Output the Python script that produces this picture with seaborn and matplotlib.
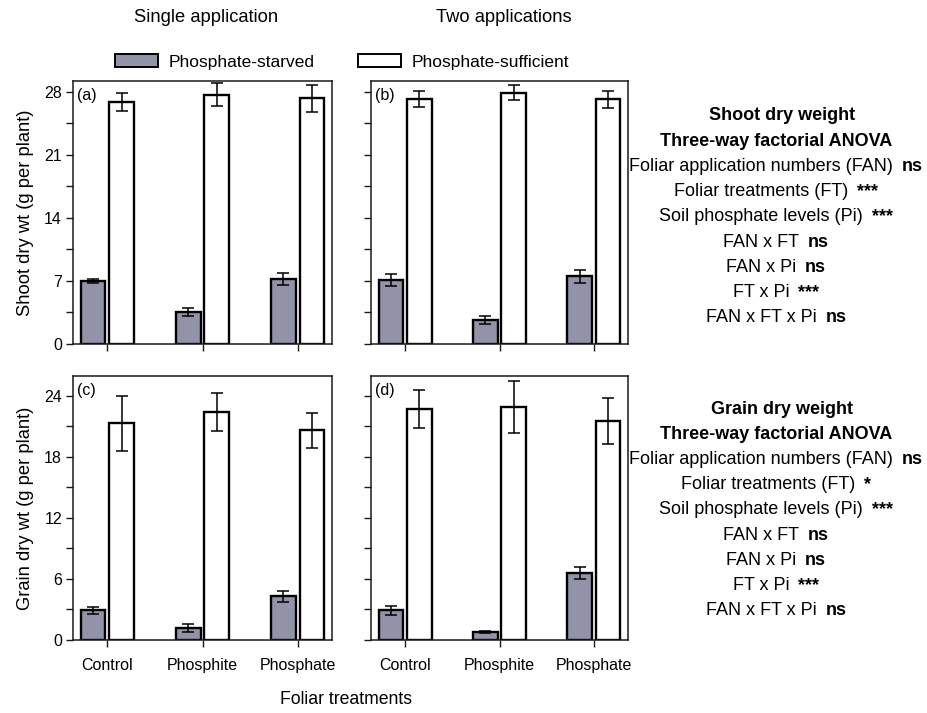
import numpy as np
import pandas as pd
import matplotlib
matplotlib.use("Agg")
import matplotlib.pyplot as plt
from matplotlib.patches import Patch
from matplotlib.ticker import MultipleLocator
import seaborn as sns

# ---- data -------------------------------------------------------------
treatments = ["Control", "Phosphite", "Phosphate"]
levels = ["Phosphate-starved", "Phosphate-sufficient"]

# Shoot dry weight (g per plant)
shoot_single_starved = [7.0, 3.6, 7.2]
shoot_single_starved_se = [0.2, 0.45, 0.65]
shoot_single_sufficient = [26.9, 27.7, 27.3]
shoot_single_sufficient_se = [1.0, 1.3, 1.5]
shoot_two_starved = [7.1, 2.7, 7.5]
shoot_two_starved_se = [0.65, 0.43, 0.7]
shoot_two_sufficient = [27.2, 27.9, 27.15]
shoot_two_sufficient_se = [0.9, 0.85, 0.9]

# Grain dry weight (g per plant)
grain_single_starved = [2.9, 1.15, 4.3]
grain_single_starved_se = [0.3, 0.4, 0.52]
grain_single_sufficient = [21.3, 22.4, 20.6]
grain_single_sufficient_se = [2.7, 1.9, 1.7]
grain_two_starved = [2.9, 0.8, 6.6]
grain_two_starved_se = [0.47, 0.1, 0.6]
grain_two_sufficient = [22.7, 22.9, 21.5]
grain_two_sufficient_se = [1.85, 2.55, 2.25]

panel_letters = ["(a)", "(b)", "(c)", "(d)"]
column_titles = ["Single application", "Two applications"]
ylabels = ["Shoot dry wt (g per plant)", "Grain dry wt (g per plant)"]
xlabel = "Foliar treatments"

shoot_anova = [("Foliar application numbers (FAN)", "ns"),
               ("Foliar treatments (FT)", "***"),
               ("Soil phosphate levels (Pi)", "***"),
               ("FAN x FT", "ns"),
               ("FAN x Pi", "ns"),
               ("FT x Pi", "***"),
               ("FAN x FT x Pi", "ns")]
grain_anova = [("Foliar application numbers (FAN)", "ns"),
               ("Foliar treatments (FT)", "*"),
               ("Soil phosphate levels (Pi)", "***"),
               ("FAN x FT", "ns"),
               ("FAN x Pi", "ns"),
               ("FT x Pi", "***"),
               ("FAN x FT x Pi", "ns")]

# ---- style ------------------------------------------------------------
sns.set_theme(style="ticks")
plt.rcParams["font.family"] = ["Liberation Sans", "DejaVu Sans"]
plt.rcParams.update({"text.color": "black", "axes.labelcolor": "black",
                     "xtick.color": "black", "ytick.color": "black"})
STARVED = "#9292A8"
SPINE = "#1a1a1a"
FS = 11.5        # tick labels / panel letters
FS_LBL = 13.2    # axis labels and column titles
FS_TXT = 13.0    # ANOVA summaries

fig = plt.figure(figsize=(9.27, 7.13), dpi=100)
W, H = 927, 713


def px_axes(x0, y0, x1, y1):
    return fig.add_axes([x0 / W, 1 - y1 / H, (x1 - x0) / W, (y1 - y0) / H])


axes = [px_axes(73, 81, 332, 344), px_axes(371, 81, 628, 344),
        px_axes(73, 376, 332, 640), px_axes(371, 376, 628, 640)]

panels = [
    (shoot_single_starved, shoot_single_starved_se, shoot_single_sufficient, shoot_single_sufficient_se),
    (shoot_two_starved, shoot_two_starved_se, shoot_two_sufficient, shoot_two_sufficient_se),
    (grain_single_starved, grain_single_starved_se, grain_single_sufficient, grain_single_sufficient_se),
    (grain_two_starved, grain_two_starved_se, grain_two_sufficient, grain_two_sufficient_se),
]

for i, (ax, (st, st_se, su, su_se)) in enumerate(zip(axes, panels)):
    df = pd.DataFrame({
        "treatment": treatments * 2,
        "level": [levels[0]] * 3 + [levels[1]] * 3,
        "value": st + su,
    })
    sns.barplot(data=df, x="treatment", y="value", hue="level",
                order=treatments, hue_order=levels,
                palette=[STARVED, "white"], saturation=1,
                width=0.6, gap=0.13, errorbar=None,
                edgecolor="black", linewidth=1.7, legend=False, ax=ax)
    for cont, errs in zip(ax.containers, [st_se, su_se]):
        xs = [b.get_x() + b.get_width() / 2 for b in cont]
        ys = [b.get_height() for b in cont]
        ax.errorbar(xs, ys, yerr=errs, fmt="none", ecolor="black",
                    elinewidth=1.1, capsize=4.5, capthick=1.1, zorder=5)

    top = i < 2
    ax.set_xlim(-0.36, 2.36)
    if top:
        ax.set_ylim(0, 29.2)
        ax.yaxis.set_major_locator(MultipleLocator(7))
        ax.yaxis.set_minor_locator(MultipleLocator(3.5))
    else:
        ax.set_ylim(0, 25.95)
        ax.yaxis.set_major_locator(MultipleLocator(6))
        ax.yaxis.set_minor_locator(MultipleLocator(3))

    ax.set_xlabel("")
    ax.set_ylabel("")
    for s in ax.spines.values():
        s.set_visible(True)
        s.set_color(SPINE)
        s.set_linewidth(1.1)
    ax.tick_params(axis="both", which="major", direction="out", length=5,
                   width=1.0, color=SPINE, labelsize=FS, pad=3)
    ax.tick_params(axis="y", which="minor", direction="out", length=5,
                   width=1.0, color=SPINE)
    if i % 2 == 1:
        ax.tick_params(axis="y", labelleft=False)
    else:
        ax.set_ylabel(ylabels[i // 2], fontsize=FS_LBL, labelpad=7)
    if top:
        ax.tick_params(axis="x", labelbottom=False)
    else:
        ax.tick_params(axis="x", pad=8)
    ax.text(0.015, 0.945, panel_letters[i], transform=ax.transAxes,
            ha="left", va="center", fontsize=FS)

# column titles and shared x label
fig.text(206 / W, 1 - 17 / H, column_titles[0], ha="center", va="center", fontsize=FS_LBL)
fig.text(504 / W, 1 - 17 / H, column_titles[1], ha="center", va="center", fontsize=FS_LBL)
fig.text(346 / W, 1 - 700 / H, xlabel, ha="center", va="center", fontsize=FS_LBL - 0.5)

# legend
handles = [Patch(facecolor=STARVED, edgecolor="black", linewidth=1.4, label=levels[0]),
           Patch(facecolor="white", edgecolor="black", linewidth=1.4, label=levels[1])]
fig.legend(handles=handles, loc="center", bbox_to_anchor=(342 / W, 1 - 62 / H),
           ncol=2, frameon=False, fontsize=12.5, handlelength=2.5,
           handleheight=0.8, handletextpad=0.6, columnspacing=2.5)

# ANOVA summaries
renderer = fig.canvas.get_renderer()


def mixed_line(xc, yc, normal, bold, gap=9):
    t1 = fig.text(0, yc / H, normal, ha="left", va="center", fontsize=FS_TXT)
    t2 = fig.text(0, yc / H, bold, ha="left", va="center", fontsize=FS_TXT,
                  fontweight="bold")
    w1 = t1.get_window_extent(renderer).width
    w2 = t2.get_window_extent(renderer).width
    x0 = xc - (w1 + gap + w2) / 2
    t1.set_x(x0 / W)
    t2.set_x((x0 + w1 + gap) / W)


def anova_block(y_start, heading, rows, xc=776, step=25.2):
    fig.text((xc + 6) / W, 1 - y_start / H, heading, ha="center", va="center",
             fontsize=FS_TXT, fontweight="bold")
    fig.text(xc / W, 1 - (y_start + step) / H, "Three-way factorial ANOVA",
             ha="center", va="center", fontsize=FS_TXT, fontweight="bold")
    for k, (name, sig) in enumerate(rows):
        mixed_line(xc, H - (y_start + step * (k + 2)), name, sig)


anova_block(116, "Shoot dry weight", shoot_anova)
anova_block(409, "Grain dry weight", grain_anova)

fig.savefig("out.png", dpi=100)
